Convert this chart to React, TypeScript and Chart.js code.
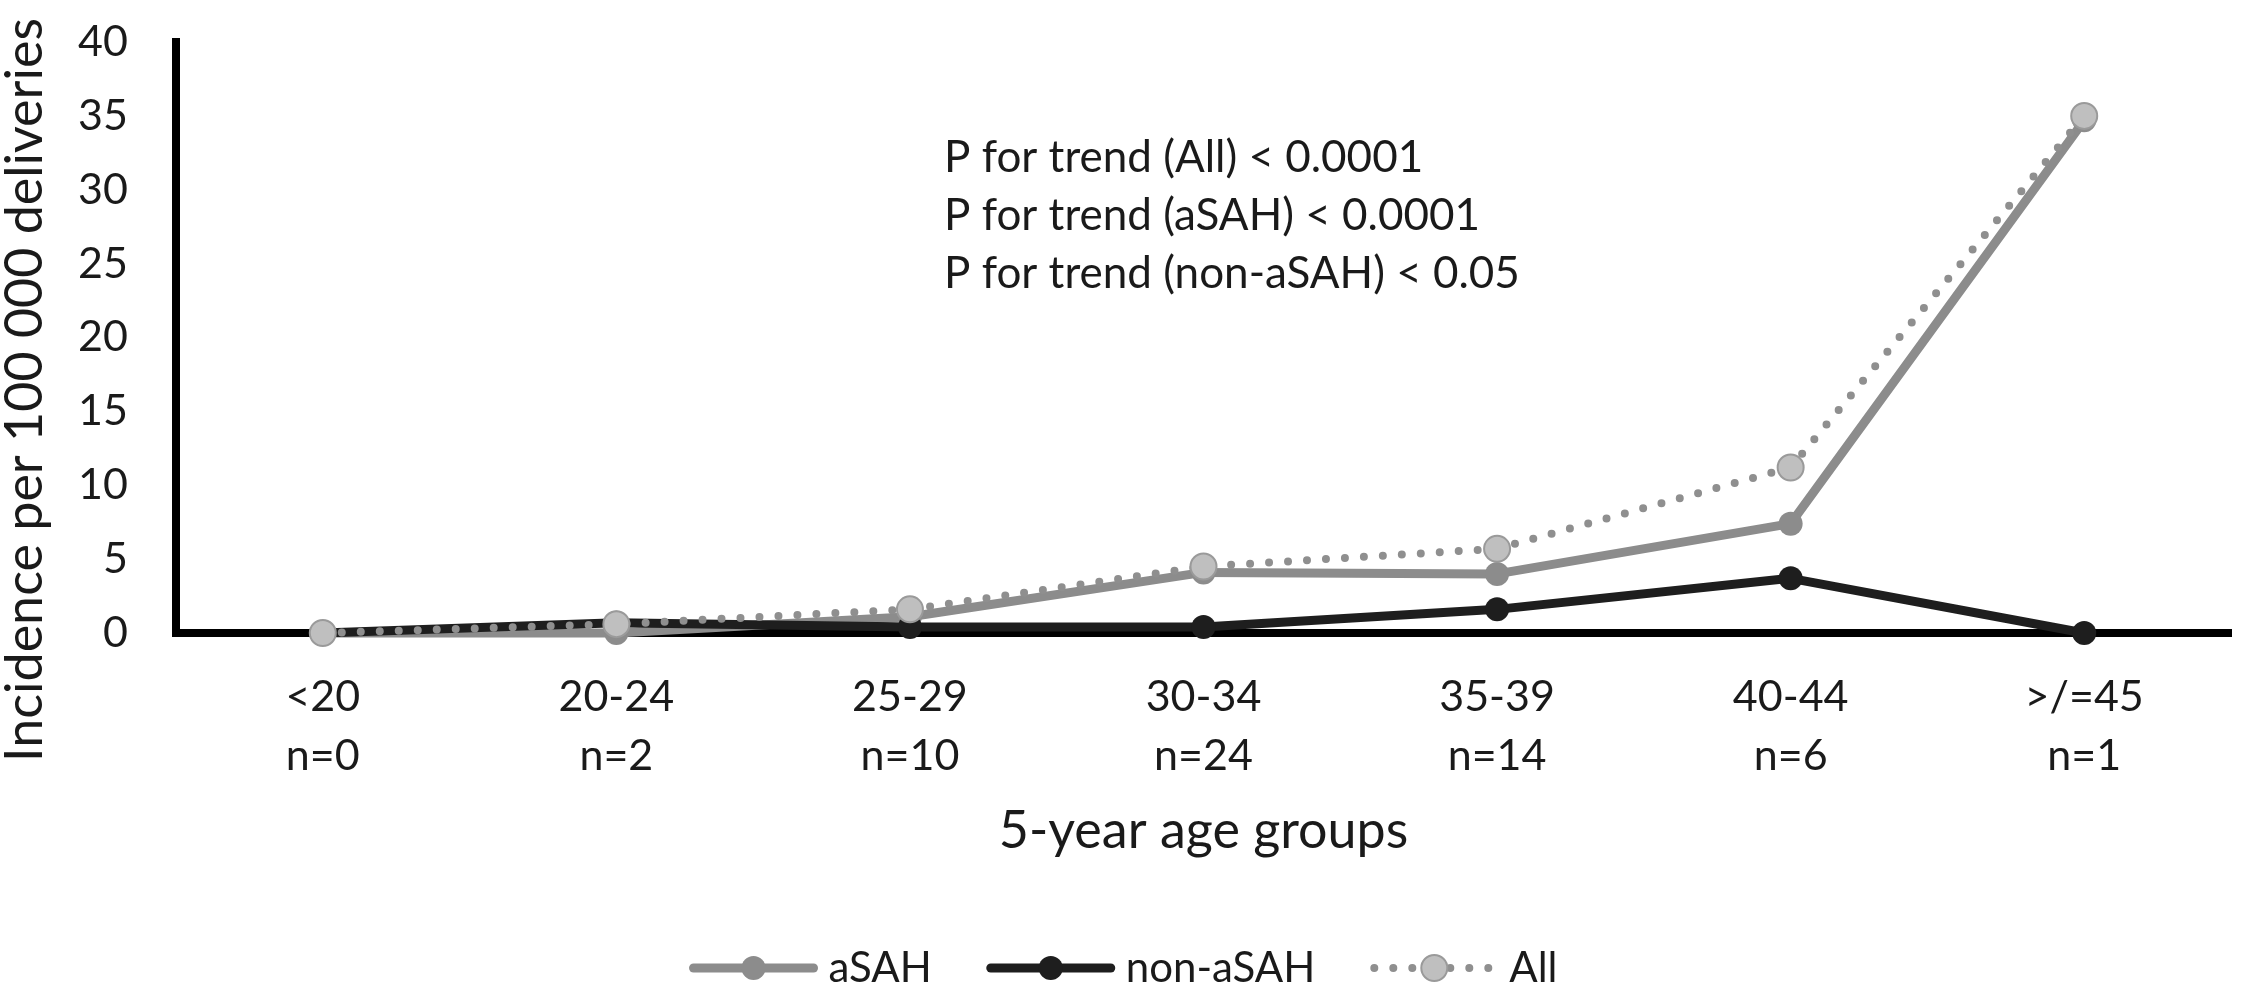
import React, { useEffect, useRef } from 'react';
import { Chart, registerables } from 'chart.js';

Chart.register(...registerables);

const categories = ['<20', '20-24', '25-29', '30-34', '35-39', '40-44', '>/=45'];
const sampleSizes = ['n=0', 'n=2', 'n=10', 'n=24', 'n=14', 'n=6', 'n=1'];
const aSAH = [0, 0.0, 1.1, 4.1, 4.0, 7.4, 34.7];
const nonASAH = [0, 0.7, 0.4, 0.4, 1.6, 3.7, 0];
const allCases = [0, 0.6, 1.6, 4.5, 5.7, 11.2, 35];
const seriesNames = ['aSAH', 'non-aSAH', 'All'];
const yMin = 0;
const yMax = 40;
const yStep = 5;
const trendNotes = [
  'P for trend (All) < 0.0001',
  'P for trend (aSAH) < 0.0001',
  'P for trend (non-aSAH) < 0.05',
];
const xTitle = '5-year age groups';
const yTitle = 'Incidence per 100 000 deliveries';

const FONT = 'Lato, "Open Sans", sans-serif';
const TEXT = '#1a1a1a';

const toPoints = (vals: number[]) => vals.map((v, i) => ({ x: i, y: v }));

const textPlugin = {
  id: 'textAndLegend',
  afterDraw(chart: any) {
    const ctx = chart.ctx as CanvasRenderingContext2D;
    const area = chart.chartArea;
    ctx.save();
    ctx.fillStyle = TEXT;

    // y title
    ctx.save();
    ctx.font = `52px ${FONT}`;
    ctx.translate(42, 390);
    ctx.rotate(-Math.PI / 2);
    ctx.textAlign = 'center';
    ctx.textBaseline = 'alphabetic';
    ctx.fillText(yTitle, 0, 0);
    ctx.restore();

    // x title
    ctx.font = `52px ${FONT}`;
    ctx.textAlign = 'center';
    ctx.textBaseline = 'alphabetic';
    ctx.fillText(xTitle, (area.left + area.right) / 2, 848);

    // trend notes
    ctx.font = `44px ${FONT}`;
    ctx.textAlign = 'left';
    trendNotes.forEach((t, i) => {
      ctx.fillText(t, 944, 172 + i * 58);
    });

    // legend
    const ds = chart.data.datasets;
    ctx.font = `42px ${FONT}`;
    const symW = 130;
    const gapText = 10;
    const gapItem = 54;
    const widths = ds.map((d: any) => symW + gapText + ctx.measureText(d.label).width);
    const total = widths.reduce((a: number, b: number) => a + b, 0) + gapItem * (ds.length - 1);
    let x = chart.width / 2 - total / 2;
    const y = 968;
    ds.forEach((d: any, i: number) => {
      ctx.save();
      ctx.lineCap = 'round';
      ctx.strokeStyle = d.borderColor;
      ctx.lineWidth = d.borderWidth;
      ctx.setLineDash(d.borderDash && d.borderDash.length ? d.borderDash : []);
      ctx.beginPath();
      ctx.moveTo(x + 5, y);
      ctx.lineTo(x + symW - 5, y);
      ctx.stroke();
      ctx.setLineDash([]);
      ctx.beginPath();
      ctx.arc(x + symW / 2, y, d.pointRadius, 0, Math.PI * 2);
      ctx.fillStyle = d.pointBackgroundColor;
      ctx.fill();
      if (d.pointBorderWidth) {
        ctx.lineWidth = d.pointBorderWidth;
        ctx.strokeStyle = d.pointBorderColor;
        ctx.stroke();
      }
      ctx.restore();
      ctx.fillStyle = TEXT;
      ctx.textAlign = 'left';
      ctx.textBaseline = 'middle';
      ctx.fillText(d.label, x + symW + gapText, y);
      x += widths[i] + gapItem;
    });
    ctx.restore();
  },
};

export default function App() {
  const ref = useRef<HTMLCanvasElement | null>(null);
  useEffect(() => {
    if (!ref.current) return;
    const chart = new Chart(ref.current, {
      type: 'line',
      data: {
        datasets: [
          {
            label: seriesNames[0],
            data: toPoints(aSAH),
            borderColor: '#8c8c8c',
            backgroundColor: '#8c8c8c',
            borderWidth: 9,
            borderJoinStyle: 'round',
            pointRadius: 12,
            pointHoverRadius: 12,
            pointBackgroundColor: '#8c8c8c',
            pointBorderColor: '#8c8c8c',
            pointBorderWidth: 0,
            clip: false,
            order: 3,
          } as any,
          {
            label: seriesNames[1],
            data: toPoints(nonASAH),
            borderColor: '#1e1e1e',
            backgroundColor: '#1e1e1e',
            borderWidth: 9,
            borderJoinStyle: 'round',
            pointRadius: 12,
            pointHoverRadius: 12,
            pointBackgroundColor: '#1e1e1e',
            pointBorderColor: '#1e1e1e',
            pointBorderWidth: 0,
            clip: false,
            order: 2,
          } as any,
          {
            label: seriesNames[2],
            data: toPoints(allCases),
            borderColor: '#8f8f8f',
            backgroundColor: '#bfbfbf',
            borderWidth: 8,
            borderDash: [0, 19],
            borderCapStyle: 'round',
            borderJoinStyle: 'round',
            pointRadius: 13,
            pointHoverRadius: 13,
            pointBackgroundColor: '#bfbfbf',
            pointBorderColor: '#9a9a9a',
            pointBorderWidth: 2,
            clip: false,
            order: 1,
          } as any,
        ],
      },
      options: {
        responsive: false,
        animation: false,
        devicePixelRatio: 1,
        layout: { padding: { top: 42, right: 2, left: 0, bottom: 0 } },
        plugins: {
          legend: { display: false },
          tooltip: { enabled: false },
          title: { display: false },
        },
        scales: {
          x: {
            type: 'linear',
            min: -0.5,
            max: 6.5,
            afterBuildTicks: (axis: any) => {
              axis.ticks = categories.map((_, i) => ({ value: i }));
            },
            afterFit: (s: any) => {
              s.height = 354;
            },
            grid: { display: false, drawTicks: false },
            border: { display: true, color: '#000', width: 8 },
            ticks: {
              padding: 35,
              autoSkip: false,
              maxRotation: 0,
              color: TEXT,
              font: { family: FONT, size: 43, lineHeight: 1.37 },
              callback: (v: any) => [categories[v as number], sampleSizes[v as number]],
            },
          },
          y: {
            min: yMin,
            max: yMax,
            afterFit: (s: any) => {
              s.width = 176;
              s.paddingTop = 20;
              s.paddingBottom = 20;
            },
            grid: { display: false, drawTicks: false },
            border: { display: true, color: '#000', width: 8 },
            ticks: {
              stepSize: yStep,
              padding: 48,
              color: TEXT,
              font: { family: FONT, size: 43 },
            },
          },
        },
      } as any,
      plugins: [textPlugin],
    });
    return () => chart.destroy();
  }, []);
  return (
    <div style={{ position: 'absolute', left: 0, top: 0, width: 2246, height: 987, background: '#fff' }}>
      <canvas ref={ref} width={2246} height={987} style={{ display: 'block' }} />
    </div>
  );
}
